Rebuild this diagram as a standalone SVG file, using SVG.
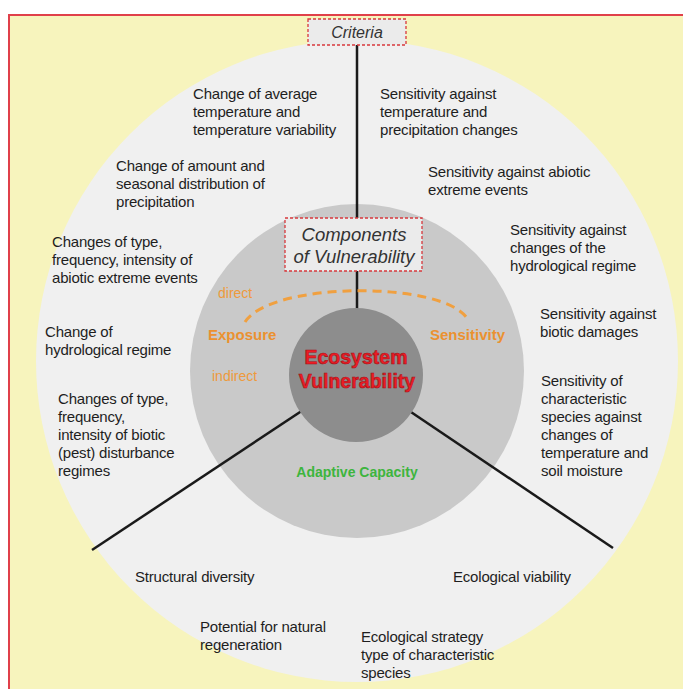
<svg xmlns="http://www.w3.org/2000/svg" width="683" height="689" viewBox="0 0 683 689">
<style>
.t{font-family:"Liberation Sans",Arial,sans-serif;font-size:15px;fill:#1e1e1e;letter-spacing:-0.2px}
.box{fill:#EBEBEB;stroke:#D8383C;stroke-width:1.3;stroke-dasharray:3 2}
.bt{font-family:"Liberation Sans",Arial,sans-serif;font-style:italic;fill:#333;text-anchor:middle}
.or{font-family:"Liberation Sans",Arial,sans-serif;fill:#EE9A3C}
.orb{font-family:"Liberation Sans",Arial,sans-serif;font-weight:bold;font-size:15px;fill:#EB9130}
.ln{stroke:#1a1a1a;stroke-width:2.5;fill:none}
.ev{font-family:"Liberation Sans",Arial,sans-serif;font-weight:bold;font-size:19.5px;fill:#EE1C24;stroke:#A01018;stroke-width:0.6;text-anchor:middle}
</style>
<rect x="0" y="0" width="683" height="689" fill="#ffffff"/>
<rect x="9" y="15" width="700" height="700" fill="#F7F4BD" stroke="#E0404A" stroke-width="2"/>
<g id="rings">
<circle cx="357" cy="361" r="321" fill="#F0F0F0"/>
<circle cx="357" cy="371" r="167" fill="#C9C9C9"/>
</g>
<g id="connectors">
<line class="ln" x1="357" y1="45" x2="357" y2="310"/>
<line class="ln" x1="356" y1="375" x2="92" y2="550"/>
<line class="ln" x1="356" y1="375" x2="613" y2="548"/>
<path d="M245 322 C270 282 440 280 467 318" fill="none" stroke="#F0A040" stroke-width="3" stroke-dasharray="9 6"/>
</g>
<g id="core">
<circle cx="356" cy="375" r="67" fill="#8D8D8D"/>
<text class="ev" x="356" y="364">Ecosystem</text>
<text class="ev" x="357" y="388">Vulnerability</text>
</g>
<g id="criteria">
<rect class="box" x="308" y="19" width="98" height="26"/>
<text class="bt" x="357" y="38" font-size="16">Criteria</text>
</g>
<g id="components">
<rect class="box" x="285" y="218" width="137" height="53"/>
<text class="bt" x="354" y="241" font-size="18.5">Components</text>
<text class="bt" x="354" y="263" font-size="18.5">of Vulnerability</text>
</g>
<g id="exposure">
<text class="or" x="218" y="298" font-size="14">direct</text>
<text class="orb" x="208" y="340">Exposure</text>
<text class="or" x="212" y="381" font-size="14">indirect</text>
</g>
<g id="sensitivity">
<text class="orb" x="430" y="340">Sensitivity</text>
</g>
<g id="adaptive">
<text x="357" y="477" text-anchor="middle" font-family="'Liberation Sans',Arial,sans-serif" font-weight="bold" font-size="14" fill="#3DB53D">Adaptive Capacity</text>
</g>
<g id="exposure-criteria">
<text class="t" x="193" y="99"><tspan x="193">Change of average</tspan><tspan x="193" dy="18">temperature and</tspan><tspan x="193" dy="18">temperature variability</tspan></text>
<text class="t" x="116" y="171"><tspan x="116">Change of amount and</tspan><tspan x="116" dy="18">seasonal distribution of</tspan><tspan x="116" dy="18">precipitation</tspan></text>
<text class="t" x="52" y="247"><tspan x="52">Changes of type,</tspan><tspan x="52" dy="18">frequency, intensity of</tspan><tspan x="52" dy="18">abiotic extreme events</tspan></text>
<text class="t" x="45" y="337"><tspan x="45">Change of</tspan><tspan x="45" dy="18">hydrological regime</tspan></text>
<text class="t" x="58" y="404"><tspan x="58">Changes of type,</tspan><tspan x="58" dy="18">frequency,</tspan><tspan x="58" dy="18">intensity of biotic</tspan><tspan x="58" dy="18">(pest) disturbance</tspan><tspan x="58" dy="18">regimes</tspan></text>
</g>
<g id="sensitivity-criteria">
<text class="t" x="380" y="99"><tspan x="380">Sensitivity against</tspan><tspan x="380" dy="18">temperature and</tspan><tspan x="380" dy="18">precipitation changes</tspan></text>
<text class="t" x="428" y="177"><tspan x="428">Sensitivity against abiotic</tspan><tspan x="428" dy="18">extreme events</tspan></text>
<text class="t" x="510" y="235"><tspan x="510">Sensitivity against</tspan><tspan x="510" dy="18">changes of the</tspan><tspan x="510" dy="18">hydrological regime</tspan></text>
<text class="t" x="540" y="319"><tspan x="540">Sensitivity against</tspan><tspan x="540" dy="18">biotic damages</tspan></text>
<text class="t" x="541" y="386"><tspan x="541">Sensitivity of</tspan><tspan x="541" dy="18">characteristic</tspan><tspan x="541" dy="18">species against</tspan><tspan x="541" dy="18">changes of</tspan><tspan x="541" dy="18">temperature and</tspan><tspan x="541" dy="18">soil moisture</tspan></text>
</g>
<g id="adaptive-criteria">
<text class="t" x="135" y="582">Structural diversity</text>
<text class="t" x="453" y="582">Ecological viability</text>
<text class="t" x="200" y="632"><tspan x="200">Potential for natural</tspan><tspan x="200" dy="18">regeneration</tspan></text>
<text class="t" x="361" y="642"><tspan x="361">Ecological strategy</tspan><tspan x="361" dy="18">type of characteristic</tspan><tspan x="361" dy="18">species</tspan></text>
</g>
</svg>
